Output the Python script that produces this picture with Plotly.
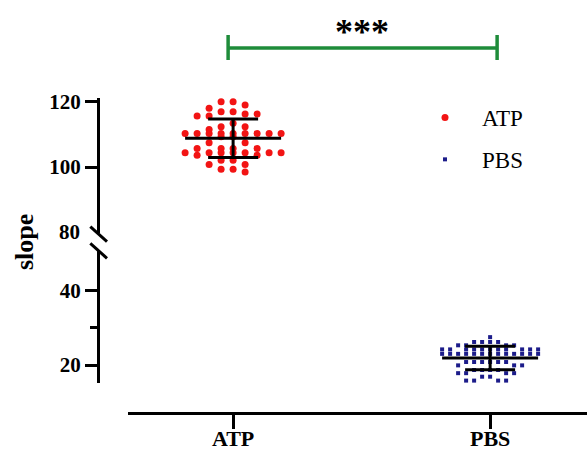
import numpy as np
import plotly.graph_objects as go

# ---------------- data ----------------
categories = ["ATP", "PBS"]
atp_values = [120.0, 120.0, 119.0, 118.0, 116.9, 116.9, 116.2, 116.2, 115.6, 115.6,
              113.4, 112.3, 112.3, 111.5,
              110.3, 110.3, 110.3, 110.3, 110.3, 110.3, 110.3, 110.3, 110.3,
              109.3, 109.3, 107.4, 107.4,
              105.7, 105.7, 105.7, 105.7,
              104.4, 104.4, 104.4, 104.4, 104.4, 104.4, 104.4,
              103.6, 103.6, 102.1, 102.1, 100.8, 100.8, 99.3, 99.3, 98.5]
pbs_values = [27.5,
              26.2, 26.2, 26.2, 26.2,
              25.3, 25.3, 25.3, 25.3,
              24.2, 24.2, 24.2, 24.2, 24.2, 24.2, 24.2, 24.2, 24.2, 24.2, 24.2,
              23.0, 23.0, 23.0, 23.0, 23.0, 23.0, 23.0, 23.0, 23.0, 23.0, 23.0, 23.0, 23.0,
              20.8, 20.8, 20.8, 20.8, 20.8, 20.8,
              19.9, 19.9, 19.9,
              18.65, 18.65, 18.65, 18.65,
              17.8, 17.8, 17.8, 17.8,
              16.85, 16.85,
              15.8, 15.8, 15.8, 15.8]
upper_ticks = [100, 120]
break_tick = 80
lower_ticks = [20, 40]
lower_minor = [30]
signif = "***"

# ---------------- geometry helpers ----------------
W, H = 587, 450
X_RANGE = [-0.409, 1.377]
X_DOM = [128 / W, 1.0]
UP_DOM = [1 - 233 / H, 1 - 98 / H]
UP_RANGE = [79.8, 121.13]
LO_DOM = [1 - 383 / H, 1 - 251 / H]
LO_RANGE = [15.155, 50.69]
AXIS_X = 98 / W

px_per_x = (X_DOM[1] - X_DOM[0]) * W / (X_RANGE[1] - X_RANGE[0])


def px_per_y(dom, rng):
    return (dom[1] - dom[0]) * H / (rng[1] - rng[0])


def swarm(values, center, col_px, thr_px, max_k, ppy):
    """Column-grid dot layout: each point goes to the nearest-to-centre column
    where it does not overlap, else to the column with the most room."""
    order = np.argsort(-np.asarray(values), kind="stable")
    cols = {}
    xs = np.zeros(len(values))
    offsets = [0]
    for k in range(1, max_k + 1):
        offsets += [-k, k]
    for i in order:
        yp = values[i] * ppy
        best_k, best_d = 0, -1.0
        chosen = None
        for k in offsets:
            pts = cols.get(k, [])
            d = min((abs(yp - q) for q in pts), default=1e9)
            if d >= thr_px:
                chosen = k
                break
            if d > best_d + 1e-9:
                best_k, best_d = k, d
        if chosen is None:
            chosen = best_k
        cols.setdefault(chosen, []).append(yp)
        xs[i] = center + chosen * col_px / px_per_x
    return xs


atp_x = swarm(atp_values, 0, 12, 7.0, 4, px_per_y(UP_DOM, UP_RANGE))
pbs_x = swarm(pbs_values, 1, 8, 4.5, 6, px_per_y(LO_DOM, LO_RANGE))


def errbar(vals, center):
    m = float(np.mean(vals))
    s = float(np.std(vals, ddof=1))
    hw = 48 / px_per_x
    cw = 25 / px_per_x
    xs = [center - hw, center + hw, None,
          center - cw, center + cw, None,
          center - cw, center + cw, None,
          center, center]
    ys = [m, m, None, m + s, m + s, None, m - s, m - s, None, m - s, m + s]
    return xs, ys


FONT = "Liberation Serif"

fig = go.Figure()
fig.add_trace(go.Scatter(
    x=atp_x, y=atp_values, mode="markers", name=categories[0], yaxis="y2",
    marker=dict(color="#f21414", size=7, symbol="circle", line=dict(width=0)),
    legendgroup="a"))
fig.add_trace(go.Scatter(
    x=pbs_x, y=pbs_values, mode="markers", name=categories[1], yaxis="y",
    marker=dict(color="#1c1c8a", size=4, symbol="square", line=dict(width=0)),
    legendgroup="b"))

ex, ey = errbar(atp_values, 0)
fig.add_trace(go.Scatter(x=ex, y=ey, mode="lines", yaxis="y2", showlegend=False,
                         line=dict(color="black", width=3), hoverinfo="skip"))
ex, ey = errbar(pbs_values, 1)
fig.add_trace(go.Scatter(x=ex, y=ey, mode="lines", yaxis="y", showlegend=False,
                         line=dict(color="black", width=3), hoverinfo="skip"))

tickfont = dict(family=FONT, size=21, color="black", weight="bold")

fig.update_layout(
    width=W, height=H, autosize=False,
    margin=dict(l=0, r=0, t=0, b=0, pad=0, autoexpand=False),
    paper_bgcolor="white", plot_bgcolor="white",
    showlegend=True,
    legend=dict(x=408 / W, y=1 - 96 / H, xanchor="left", yanchor="top",
                font=dict(family=FONT, size=23, color="black"),
                itemwidth=64, tracegroupgap=9, bgcolor="rgba(0,0,0,0)"),
    xaxis=dict(domain=X_DOM, range=X_RANGE, anchor="free", position=1 - 413 / H,
               automargin=False,
               showline=True, linewidth=3, linecolor="black",
               ticks="outside", ticklen=14, tickwidth=3, tickcolor="black",
               ticklabelstandoff=-9,
               tickvals=[0, 1], ticktext=categories, tickfont=dict(tickfont, size=22),
               showgrid=False, zeroline=False),
    yaxis=dict(domain=LO_DOM, range=LO_RANGE, anchor="free", position=AXIS_X,
               automargin=False,
               showline=True, linewidth=3, linecolor="black",
               ticks="outside", ticklen=12, tickwidth=3, tickcolor="black",
               tickvals=lower_ticks, tickfont=tickfont,
               minor=dict(tickvals=lower_minor, ticks="outside", ticklen=7,
                          tickwidth=3, tickcolor="black", showgrid=False),
               showgrid=False, zeroline=False),
    yaxis2=dict(domain=UP_DOM, range=UP_RANGE, anchor="free", position=AXIS_X,
                automargin=False,
                showline=True, linewidth=3, linecolor="black",
                ticks="outside", ticklen=12, tickwidth=3, tickcolor="black",
                tickvals=upper_ticks, tickfont=tickfont,
                showgrid=False, zeroline=False),
)

# break label (no tick mark) and axis title
fig.add_annotation(text=str(break_tick), xref="paper", yref="y2", x=82 / W, y=break_tick,
                   xanchor="right", yanchor="middle", showarrow=False, font=tickfont)
fig.add_annotation(text="slope", xref="paper", yref="paper", x=24 / W, y=1 - 242 / H,
                   xanchor="center", yanchor="middle",
                   textangle=-90, showarrow=False,
                   font=dict(family=FONT, size=26, color="black", weight="bold"))

# axis break marks
for (x0, y0, x1, y1) in [(90.3, 226.7, 107, 241.7), (90.3, 243.3, 107, 258.3)]:
    fig.add_shape(type="line", xref="paper", yref="paper",
                  x0=x0 / W, y0=1 - y0 / H, x1=x1 / W, y1=1 - y1 / H,
                  line=dict(color="black", width=3))

# significance bracket
green = "#1e8c3a"
bx0, bx1 = -5 / px_per_x, 1 + 7 / px_per_x
fig.add_shape(type="line", xref="x", yref="paper", x0=bx0, x1=bx1,
              y0=1 - 48 / H, y1=1 - 48 / H, line=dict(color=green, width=3.5))
for bx in (bx0, bx1):
    fig.add_shape(type="line", xref="x", yref="paper", x0=bx, x1=bx,
                  y0=1 - 35 / H, y1=1 - 60 / H, line=dict(color=green, width=3.5))
fig.add_annotation(text=signif, xref="x", yref="paper", x=0.5, y=1 - 32 / H,
                   xanchor="center", yanchor="middle", showarrow=False,
                   font=dict(family=FONT, size=36, color="black", weight="bold"))

fig.write_html(
    "out.html",
    config={"displayModeBar": False, "responsive": False},
    post_script="document.body.style.margin='0';document.body.style.overflow='hidden';",
)
